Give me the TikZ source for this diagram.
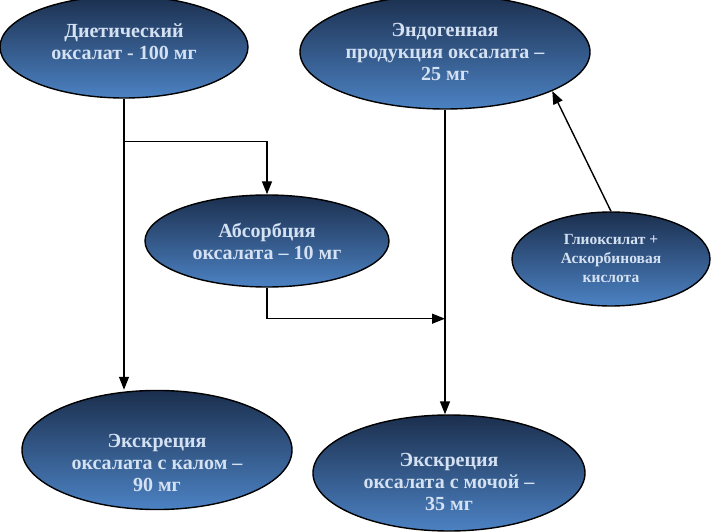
\documentclass[tikz,border=0pt]{standalone}
\usepackage{fontspec}
\setmainfont{Liberation Serif}
\usepackage{xcolor}
\usepackage{tikz}
\usetikzlibrary{shapes.geometric, positioning, arrows.meta, calc}

\definecolor{ovaltop}{HTML}{1B2F4E}
\definecolor{ovalbot}{HTML}{4C82C3}
\definecolor{ovaltext}{HTML}{D4E1F2}

\begin{document}
\begin{tikzpicture}[
        x=1pt, y=-1pt,
        line width=1.4pt,
        % Define styles for the ovals and the arrows
        oval/.style={draw, ellipse, inner sep=0pt, top color=ovaltop, bottom color=ovalbot,
            text=ovaltext, align=center, font=\bfseries\fontsize{20}{22}\selectfont},
        smalloval/.style={oval, font=\bfseries\fontsize{15.5}{19}\selectfont},
        arrow/.style={-{Triangle[length=13pt, width=10pt]}}
    ]
    \useasboundingbox (0,0) rectangle (724,532);

    % Draw the ovals (struts move the text a little off centre)
    \node[oval, minimum width=248, minimum height=102] (diet) at (124,47) {Диетический\\оксалат - 100 мг\rule[-11pt]{0pt}{0pt}};
    \node[oval, minimum width=290, minimum height=114] (endo) at (445,52) {Эндогенная\\продукция оксалата –\\25 мг};
    \node[oval, minimum width=244, minimum height=92] (absorb) at (267,241) {Абсорбция\\оксалата – 10 мг};
    \node[smalloval, minimum width=198, minimum height=94] (glyox) at (611,259) {Глиоксилат +\\Аскорбиновая\\кислота};
    \node[oval, minimum width=270, minimum height=110] (feces) at (157,450) {\rule{0pt}{40pt}Экскреция\\оксалата с калом –\\90 мг};
    \node[oval, minimum width=272, minimum height=116] (urine) at (449,473) {\rule{0pt}{32pt}Экскреция\\оксалата с мочой –\\35 мг};

    % Branch and join points on the vertical lines
    \coordinate (fork) at ($(diet.south)+(0,43)$);
    \coordinate (join) at ($(endo.south |- absorb.south)+(0,31)$);

    % Draw the connecting lines
    \draw[arrow] (diet.south) -- (diet.south |- feces.north);
    \draw[arrow] (fork) -| (absorb.north);
    \draw[arrow] (absorb.south) |- (join);
    \draw[arrow] (endo.south) -- (endo.south |- urine.north);
    \draw[arrow] (glyox.north) -- (endo.-20);

\end{tikzpicture}
\end{document}
